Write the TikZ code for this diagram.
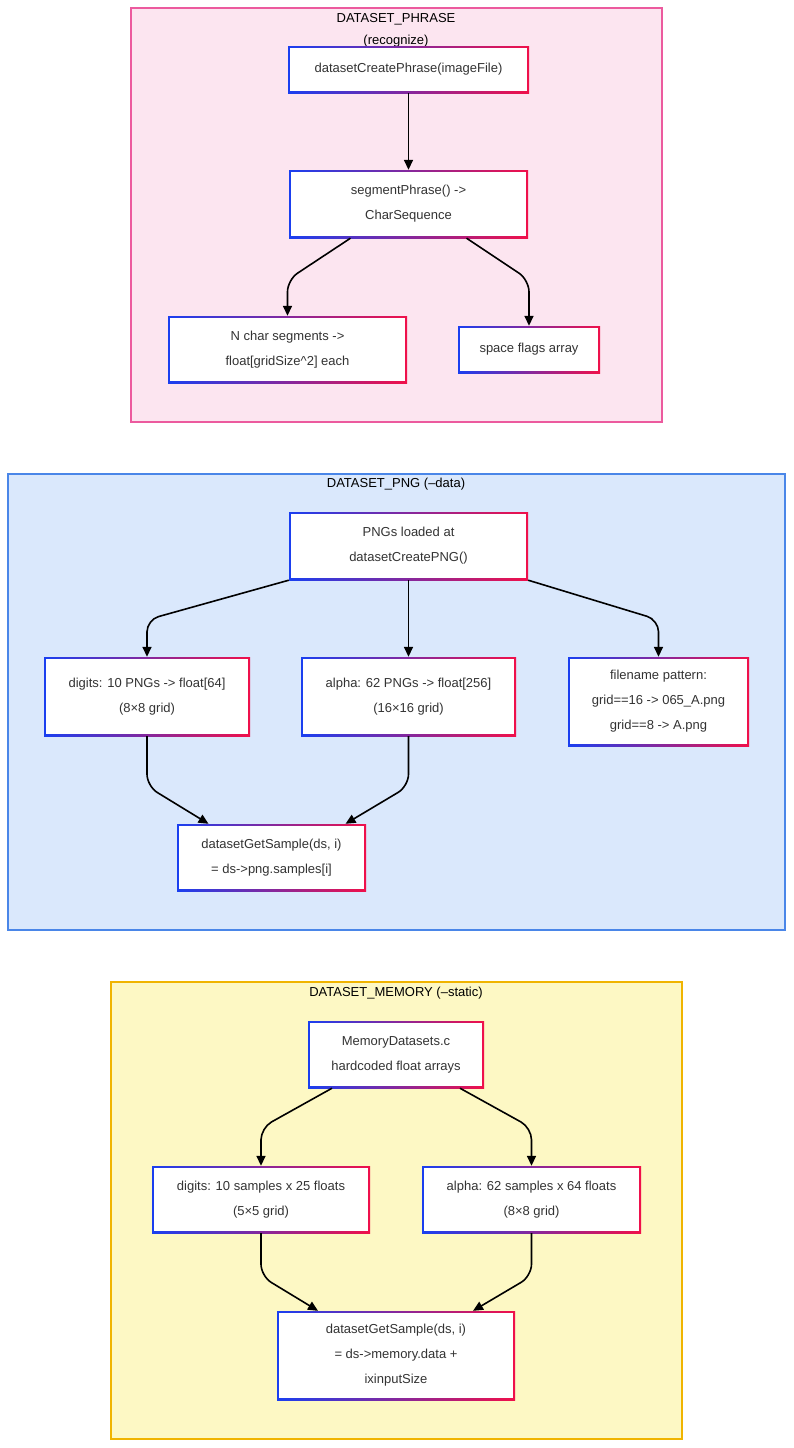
\documentclass[tikz,border=0pt]{standalone}
\usepackage{fontspec}
\setmainfont{Liberation Sans}
\usetikzlibrary{calc,arrows.meta}
\definecolor{txt}{HTML}{333333}
\definecolor{gblue}{HTML}{1A3FF0}
\definecolor{gred}{HTML}{F0104A}
\definecolor{phrasefill}{HTML}{FCE5F0}
\definecolor{phraseline}{HTML}{EC5A9E}
\definecolor{pngfill}{HTML}{DAE8FC}
\definecolor{pngline}{HTML}{4A86E8}
\definecolor{memfill}{HTML}{FDF8C4}
\definecolor{memline}{HTML}{F0B400}
\tikzstyle{box}=[shade, left color=gblue, right color=gred, inner sep=0pt,
  text=txt, align=center, font=\fontsize{13}{25}\selectfont,
  path picture={\fill[white] ($(path picture bounding box.south west)+(2,-2)$)
    rectangle ($(path picture bounding box.north east)+(-2,2)$);}]
\tikzstyle{flow}=[line width=1.6pt, rounded corners=12, -{Triangle[length=10pt,width=9pt]}]
\tikzstyle{title}=[text=black, font=\fontsize{13}{22}\selectfont, align=center]

\begin{document}
\begin{tikzpicture}[x=1pt, y=-1pt]
\useasboundingbox (0,0) rectangle (793,1448);
% Clusters
    \filldraw[fill=phrasefill, draw=phraseline, line width=1.5pt] (131,8) rectangle (662,422);
    \filldraw[fill=pngfill, draw=pngline, line width=1.5pt] (8,474) rectangle (785,930);
    \filldraw[fill=memfill, draw=memline, line width=1.5pt] (111,982) rectangle (682,1439);
    \node[title] (tphrase) at (396,30) {DATASET\_PHRASE\\(recognize)};
    \node[title] (tpng) at (396,484) {DATASET\_PNG (--data)};
    \node[title] (tmem) at (396,993) {DATASET\_MEMORY (--static)};
% Phrase
    \node[box, minimum width=241, minimum height=47] (create) at (408.5,69.5) {datasetCreatePhrase(imageFile)};
    \node[box, minimum width=239, minimum height=68] (segment) at (408.5,204) {segmentPhrase() ->\\CharSequence};
    \node[box, minimum width=239, minimum height=67] (chars) at (287.5,349.5) {N char segments ->\\float[gridSize\^{}2] each};
    \node[box, minimum width=142, minimum height=47] (spaces) at (529,349.5) {space flags array};
% PNG
    \node[box, minimum width=239, minimum height=68] (pngload) at (408.5,546) {PNGs loaded at\\datasetCreatePNG()};
    \node[box, minimum width=206, minimum height=79] (pngdig) at (147,696.5) {digits: 10 PNGs -> float[64]\\(8×8 grid)};
    \node[box, minimum width=215, minimum height=79] (pngalpha) at (408.5,696.5) {alpha: 62 PNGs -> float[256]\\(16×16 grid)};
    \node[box, minimum width=181, minimum height=89] (pngname) at (658.5,701.5) {filename pattern:\\grid==16 -> 065\_A.png\\grid==8 -> A.png};
    \node[box, minimum width=189, minimum height=67] (pngget) at (271.5,857.5) {datasetGetSample(ds, i)\\= ds->png.samples[i]};
% Memory
    \node[box, minimum width=176, minimum height=67] (memsrc) at (396,1054.5) {MemoryDatasets.c\\hardcoded float arrays};
    \node[box, minimum width=218, minimum height=67] (memdig) at (261,1199.5) {digits: 10 samples x 25 floats\\(5×5 grid)};
    \node[box, minimum width=219, minimum height=67] (memalpha) at (531.5,1199.5) {alpha: 62 samples x 64 floats\\(8×8 grid)};
    \node[box, minimum width=238, minimum height=89] (memget) at (396,1355.5) {datasetGetSample(ds, i)\\= ds->memory.data +\\ixinputSize};
% Connectors
    \draw[flow] (create) -- (segment);
    \draw[flow] ($(segment.south)+(-58,0)$) -- ($(chars.north)+(0,-36)$) -- (chars.north);
    \draw[flow] ($(segment.south)+(58,0)$) -- ($(spaces.north)+(0,-46)$) -- (spaces.north);
    \draw[flow] (pngload.south west) -- ($(pngdig.north)+(0,-37)$) -- (pngdig.north);
    \draw[flow] (pngload) -- (pngalpha);
    \draw[flow] (pngload.south east) -- ($(pngname.north)+(0,-37)$) -- (pngname.north);
    \draw[flow] (pngdig.south) -- ($(pngdig.south)+(0,50)$) -- ($(pngget.north)+(-63,0)$);
    \draw[flow] (pngalpha.south) -- ($(pngalpha.south)+(0,50)$) -- ($(pngget.north)+(74,0)$);
    \draw[flow] ($(memsrc.south)+(-64,0)$) -- ($(memdig.north)+(0,-38)$) -- (memdig.north);
    \draw[flow] ($(memsrc.south)+(64,0)$) -- ($(memalpha.north)+(0,-38)$) -- (memalpha.north);
    \draw[flow] (memdig.south) -- ($(memdig.south)+(0,43)$) -- ($(memget.north)+(-78,0)$);
    \draw[flow] (memalpha.south) -- ($(memalpha.south)+(0,43)$) -- ($(memget.north)+(77,0)$);
\end{tikzpicture}
\end{document}
